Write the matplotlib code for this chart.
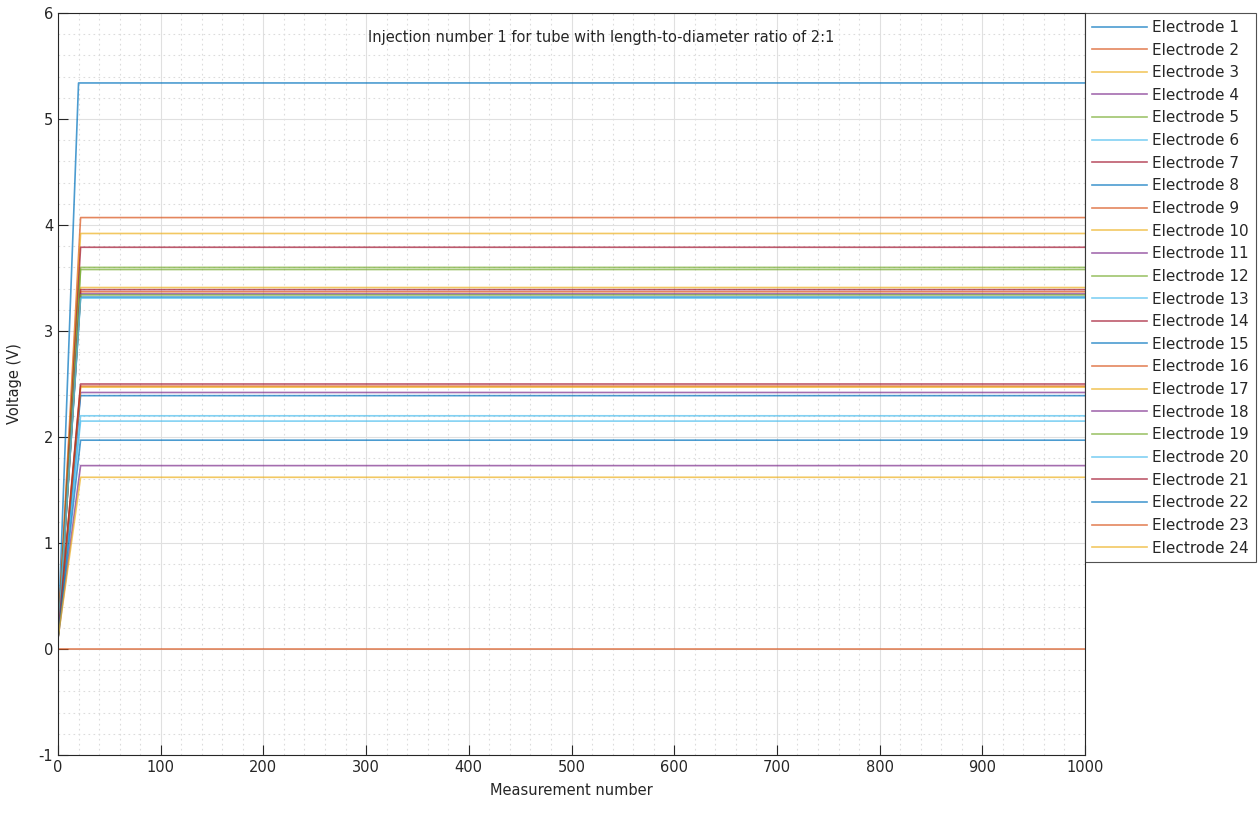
import numpy as np
import matplotlib
matplotlib.use("Agg")
import matplotlib.pyplot as plt
from matplotlib.ticker import MultipleLocator

plt.rcParams["axes.unicode_minus"] = False

# plateau voltage of every electrode, read after the ramp
electrodes = ["Electrode %d" % i for i in range(1, 25)]
plateau = [5.34, 4.07, 3.92, 2.42, 3.60, 2.20, 3.79,
           3.32, 3.37, 3.41, 1.73, 3.58, 2.15, 3.39,
           2.39, 2.48, 2.47, 3.35, 3.34, 3.31, 2.50,
           1.97, 0.00, 1.62]
start_v = [0.10, 0.10, 0.12, 0.10, 0.10, 0.12, 0.12,
           0.10, 0.10, 0.12, 0.10, 0.10, 0.12, 0.12,
           0.10, 0.10, 0.12, 0.10, 0.10, 0.12, 0.12,
           0.10, 0.00, 0.10]
ramp_end = [20, 22, 22, 22, 22, 22, 22,
            22, 22, 22, 22, 22, 22, 22,
            22, 22, 22, 22, 22, 22, 22,
            22, 22, 22]
n_meas = 1000

# MATLAB default colour order
colors = ["#0072BD", "#D95319", "#EDB120", "#7E2F8E",
          "#77AC30", "#4DBEEE", "#A2142F"]

fig = plt.figure(figsize=(12.58, 8.14), dpi=100)
ax = fig.add_axes([58 / 1258, 1 - 755 / 814, 1027 / 1258, 742 / 814])

for i, name in enumerate(electrodes):
    xs = [0, ramp_end[i], n_meas]
    ys = [start_v[i], plateau[i], plateau[i]]
    ax.plot(xs, ys, color=colors[i % 7], lw=1.2, alpha=0.7, label=name)

ax.set_xlim(0, 1000)
ax.set_ylim(-1, 6)
ax.xaxis.set_major_locator(MultipleLocator(100))
ax.xaxis.set_minor_locator(MultipleLocator(20))
ax.yaxis.set_major_locator(MultipleLocator(1))
ax.yaxis.set_minor_locator(MultipleLocator(0.2))
ax.grid(which="major", color="#e0e0e0", lw=0.8)
ax.grid(which="minor", color="#dcdcdc", lw=0.8, ls=(0, (1.5, 3)))
ax.set_axisbelow(True)
ax.tick_params(which="major", direction="in", length=7, width=0.8,
               labelsize=10.5, colors="#262626")
ax.tick_params(which="minor", length=0)
for s in ax.spines.values():
    s.set_color("#262626")
    s.set_linewidth(0.8)

ax.set_xlabel("Measurement number", fontsize=10.5, color="#262626", labelpad=6)
ax.set_ylabel("Voltage (V)", fontsize=10.5, color="#262626", labelpad=12)
ax.text(0.529, 0.977, "Injection number 1 for tube with length-to-diameter ratio of 2:1",
        transform=ax.transAxes, ha="center", va="top", fontsize=10.5, color="#262626")

leg = ax.legend(loc="upper left", bbox_to_anchor=(1.0, 1.0), fontsize=11,
                frameon=True, fancybox=False, borderaxespad=0,
                handlelength=3.6, handletextpad=0.35, labelspacing=0.5,
                borderpad=0.45)
leg.get_frame().set_edgecolor("#262626")
leg.get_frame().set_linewidth(0.8)
for t in leg.get_texts():
    t.set_color("#262626")

fig.savefig("out.png", dpi=100)
